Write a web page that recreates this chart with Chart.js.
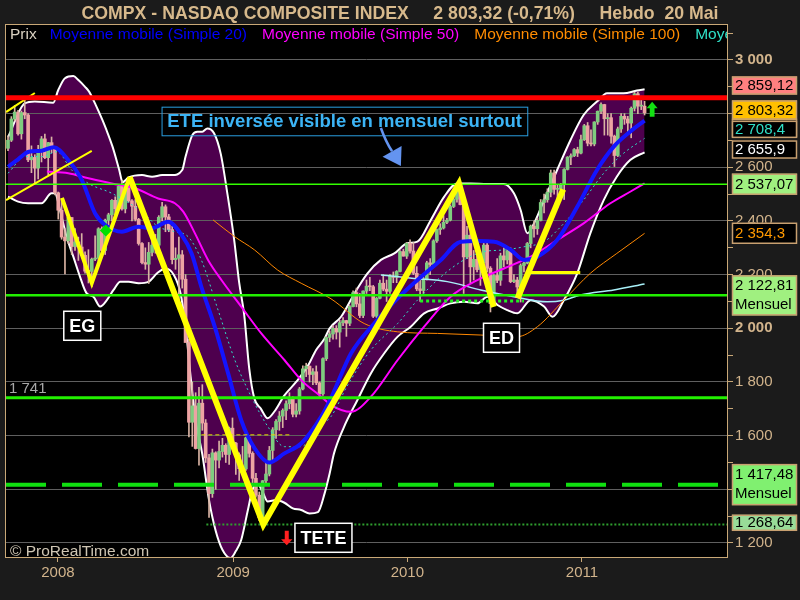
<!DOCTYPE html>
<html><head><meta charset="utf-8">
<script src="https://cdn.jsdelivr.net/npm/chart.js@4.4.0/dist/chart.umd.min.js"></script>
<style>
html,body{margin:0;padding:0;background:#1b1b1b;}
#wrap{position:relative;width:800px;height:600px;background:#1b1b1b;overflow:hidden;}
#plotbg{position:absolute;left:4px;top:25px;width:723px;height:532px;background:#000;}
#c{position:absolute;left:0;top:0;}
</style></head>
<body><div id="wrap"><div id="plotbg"></div><canvas id="c" width="800" height="600" style="width:800px;height:600px"></canvas></div>
<script>
// ---------- DATA ----------
const yearTicks = [14.9, 67.2, 119.2, 171.3];          // week index of each year start
const yearLabels = ['2008', '2009', '2010', '2011'];
const yTickValues = [1200,1300,1400,1500,1600,1700,1800,1900,2000,2100,2200,2300,2400,2500,2600,2700,2800,2900,3000,3100];

// weekly candles [open, high, low, close], one row per week, from week ending 28 Sep 2007
const ohlc2007 = [
[2671,2717,2662,2701],[2701,2789,2696,2780],[2780,2830,2773,2806],[2806,2812,2720,2725],
[2725,2810,2705,2804],[2804,2861,2781,2795],[2795,2800,2621,2628],[2628,2680,2580,2637],
[2637,2647,2540,2597],[2597,2682,2557,2661],[2661,2715,2620,2706],[2706,2724,2632,2636],
[2636,2693,2571,2692],[2692,2713,2654,2675]];
const ohlc2008 = [
[2675,2675,2497,2505],[2505,2508,2407,2440],[2440,2480,2332,2340],[2340,2372,2203,2326],
[2326,2420,2316,2413],[2413,2413,2275,2305],[2305,2372,2290,2322],[2322,2340,2253,2303],[2303,2353,2271,2272],
[2272,2285,2206,2213],[2213,2293,2169,2212],[2212,2262,2155,2258],[2258,2345,2252,2261],
[2261,2375,2250,2371],[2371,2378,2280,2290],[2290,2407,2275,2403],[2403,2429,2370,2423],
[2423,2480,2400,2477],[2477,2490,2420,2446],[2446,2534,2440,2529],[2529,2551,2440,2445],[2445,2531,2430,2523],
[2523,2550,2470,2475],[2475,2480,2400,2455],[2455,2480,2400,2406],[2406,2410,2310,2316],
[2316,2320,2240,2245],[2245,2300,2220,2239],[2239,2320,2167,2283],[2283,2340,2270,2310],
[2310,2350,2280,2310],[2310,2420,2300,2414],[2414,2470,2400,2453],[2453,2460,2360,2415],[2415,2425,2360,2368],
[2368,2380,2240,2256],[2256,2300,2220,2261],[2261,2340,2100,2274],[2274,2290,2150,2183],
[2183,2200,1950,1947],[1947,1960,1595,1650],[1650,1800,1560,1711],[1711,1760,1550,1552],[1552,1780,1490,1721],
[1721,1790,1620,1647],[1647,1660,1500,1517],[1517,1530,1295,1384],[1384,1550,1370,1536],
[1536,1540,1400,1509],[1509,1580,1480,1541],[1541,1590,1520,1564],[1564,1570,1500,1530]];
const ohlc2009 = [
[1530,1632,1493,1628],[1628,1666,1565,1572],[1572,1575,1456,1529],[1529,1536,1433,1477],[1477,1560,1470,1476],
[1476,1595,1470,1592],[1592,1600,1520,1534],[1534,1540,1420,1441],[1441,1460,1371,1378],
[1378,1390,1283,1294],[1294,1433,1265,1432],[1432,1500,1420,1457],[1457,1560,1450,1545],
[1545,1630,1500,1622],[1622,1660,1590,1653],[1653,1690,1620,1673],[1673,1700,1630,1694],
[1694,1730,1660,1719],[1719,1760,1700,1739],[1739,1745,1670,1680],[1680,1720,1670,1692],[1692,1780,1680,1774],
[1774,1860,1770,1849],[1849,1870,1820,1859],[1859,1860,1800,1828],[1828,1850,1790,1838],
[1838,1860,1790,1797],[1797,1800,1745,1756],[1756,1890,1750,1887],[1887,1970,1880,1966],[1966,1990,1950,1979],
[1979,2010,1960,2000],[2000,2010,1960,1986],[1986,2030,1930,2021],[2021,2040,2010,2029],
[2029,2030,1970,2019],[2019,2085,2010,2081],[2081,2140,2080,2133],[2133,2150,2080,2091],
[2091,2130,2040,2048],[2048,2140,2040,2139],[2139,2180,2130,2157],[2157,2190,2140,2155],[2155,2160,2040,2045],
[2045,2115,2040,2112],[2112,2180,2110,2168],[2168,2200,2140,2146],[2146,2180,2100,2138],
[2138,2200,2130,2194],[2194,2210,2170,2190],[2190,2215,2170,2212],[2212,2290,2210,2286]];
const ohlc2010 = [
[2286,2295,2269,2269],[2269,2320,2260,2317],[2317,2330,2280,2288],[2288,2320,2200,2205],[2205,2230,2140,2147],
[2147,2180,2100,2141],[2141,2190,2130,2184],[2184,2250,2180,2244],[2244,2260,2200,2238],
[2238,2330,2230,2326],[2326,2370,2320,2368],[2368,2390,2350,2374],[2374,2420,2370,2395],
[2395,2410,2390,2403],[2403,2460,2400,2454],[2454,2520,2450,2481],[2481,2535,2470,2530],[2530,2535,2460,2461],
[2461,2470,2130,2266],[2266,2380,2260,2347],[2347,2360,2170,2229],[2229,2290,2180,2257],
[2257,2290,2210,2219],[2219,2250,2160,2244],[2244,2320,2230,2310],[2310,2320,2210,2224],
[2224,2230,2061,2092],[2092,2200,2090,2197],[2197,2260,2170,2179],[2179,2280,2160,2270],[2270,2300,2230,2255],
[2255,2300,2240,2289],[2289,2300,2170,2174],[2174,2200,2170,2180],[2180,2190,2120,2154],
[2154,2240,2098,2234],[2234,2250,2210,2243],[2243,2320,2240,2316],[2316,2385,2300,2381],
[2381,2400,2340,2371],[2371,2410,2350,2402],[2402,2480,2400,2469],[2469,2500,2430,2479],[2479,2520,2470,2507],
[2507,2590,2490,2579],[2579,2590,2500,2518],[2518,2535,2450,2518],[2518,2540,2490,2535],
[2535,2595,2480,2592],[2592,2640,2590,2638],[2638,2650,2610,2643],[2643,2670,2640,2666],[2666,2675,2640,2653]];
const ohlc2011 = [
[2653,2720,2650,2703],[2703,2760,2700,2755],[2755,2767,2680,2690],[2690,2740,2680,2687],
[2687,2770,2680,2769],[2769,2810,2760,2809],[2809,2840,2800,2834],[2834,2835,2720,2781],
[2781,2800,2720,2785],[2785,2800,2690,2716],[2716,2720,2603,2644],[2644,2750,2640,2743],
[2743,2800,2730,2790],[2790,2800,2760,2780],[2780,2790,2730,2765],[2765,2825,2710,2820],[2820,2880,2810,2874],
[2874,2880,2800,2828],[2828,2865,2815,2828],[2828,2846,2795,2803]];

// indicator lines: [week, value]
const ma20 = [[0,2602],[3,2630],[6.2,2658],[10.1,2662],[13.6,2675],[17.6,2633],[22,2553],[26,2428],[29,2385],[34,2360],[38.9,2379],[42.9,2373],[47.8,2397],[51.8,2348],[54.8,2279],[57.7,2155],[61.7,2006],[65.7,1832],[69.6,1658],[73.6,1553],[78,1500],[82.5,1534],[87.5,1571],[93.5,1671],[96.4,1740],[102.4,1907],[109.3,2018],[116.3,2112],[122.2,2180],[129.2,2255],[135.2,2323],[140.1,2325],[145.1,2323],[150.1,2292],[154,2255],[158,2267],[163.9,2329],[169.9,2453],[175.8,2590],[180.8,2677],[185.7,2733],[190,2774]];
const ma30 = [[0,2578],[5.2,2640],[10.1,2640],[14.6,2658],[19,2590],[24,2540],[31,2503],[39.9,2435],[44.8,2379],[49.8,2360],[53.8,2341],[57.7,2255],[62.7,2068],[67.7,1882],[72.6,1745],[77.6,1633],[82.5,1559],[87.5,1559],[92.5,1633],[96.4,1671],[101.4,1789],[108.3,1919],[116.3,2018],[122.2,2105],[129.2,2192],[136.1,2255],[142.1,2286],[148,2292],[154,2304],[160,2323],[165.9,2391],[171.8,2478],[177.8,2578],[183.7,2652],[190,2708]];
const ma50 = [[11.6,2584],[18,2578],[24,2559],[31,2540],[37.9,2522],[44.8,2484],[49.8,2466],[52.3,2435],[55.8,2354],[59.7,2255],[63.7,2180],[69.6,2081],[75.6,1981],[82.5,1882],[87.5,1807],[93.5,1745],[96.4,1714],[102.4,1689],[108.3,1745],[116.3,1882],[124.2,2006],[132.1,2118],[140.1,2180],[148,2223],[156,2267],[163.9,2329],[171.8,2391],[179.8,2466],[185.7,2509],[190,2540]];
const ma100 = [[61.2,2404],[67.7,2341],[73.6,2292],[80.5,2217],[87.5,2168],[96.4,2110],[106.3,2018],[116.3,1987],[128.2,1981],[141.1,1975],[152,1969],[158,2006],[165.9,2105],[173.8,2205],[181.7,2279],[190,2354]];
const ma200 = [[111.3,2199],[121.2,2186],[131.1,2174],[141.1,2143],[151,2118],[160.9,2099],[165.9,2105],[170.8,2124],[180.8,2143],[190,2165]];
const bbUpper = [[0,2712],[5,2838],[8,2845],[13.5,2841],[15,2888],[17,2932],[19.5,2940],[21,2925],[23,2900],[24.2,2882],[26.2,2832],[28.2,2776],[29.2,2745],[31.2,2677],[33.2,2590],[34.2,2545],[36,2562],[40,2571],[43,2565],[46,2571],[49,2571],[52,2590],[53,2640],[55,2720],[56.5,2733],[58,2733],[59.5,2745],[61.5,2727],[63.5,2650],[65.5,2500],[67.5,2330],[69,2170],[70.5,2050],[72,1850],[73.5,1740],[75.5,1700],[77.5,1665],[79.5,1690],[82.5,1750],[86,1800],[89.5,1860],[92,1920],[94.4,1960],[96,2000],[99.4,2043],[103.4,2130],[107.3,2205],[111.3,2255],[115.3,2279],[119.2,2317],[122.2,2323],[126.2,2404],[130.2,2491],[134.1,2540],[138.1,2540],[143.1,2538],[148,2538],[151,2503],[153,2441],[155,2354],[157,2391],[160,2478],[163.9,2590],[167.9,2702],[171.8,2795],[175.8,2845],[178.8,2876],[183.7,2876],[187.7,2886],[190,2891]];
const bbLower = [[0,2491],[3,2472],[6,2466],[10,2466],[13,2503],[14,2503],[15.5,2441],[17.5,2341],[19.5,2267],[21.5,2192],[23.5,2130],[25.5,2118],[27.5,2081],[29.5,2105],[31.5,2143],[33.5,2174],[36,2174],[39,2168],[42,2174],[44.5,2205],[47,2223],[49.5,2199],[51.5,2130],[53,2006],[54.5,1820],[56,1658],[58,1530],[60,1360],[62,1245],[64,1175],[66.4,1144],[68,1170],[69.6,1211],[71.6,1323],[73,1400],[74.5,1420],[76,1390],[77.5,1355],[80,1360],[82.5,1350],[85,1329],[87.5,1323],[90,1310],[92.5,1315],[94.5,1385],[96,1459],[97.3,1534],[100.3,1633],[104.3,1733],[108.3,1832],[112.3,1907],[116.3,1969],[120.2,2006],[124.2,2056],[128.2,2074],[132.1,2093],[136.1,2099],[140.1,2093],[143.1,2118],[146.1,2087],[149,2068],[152,2056],[156,2105],[160,2081],[162.5,2043],[165.9,2105],[169.9,2205],[173.8,2354],[177.8,2478],[181.7,2565],[185.7,2627],[190,2656]];

// drawn levels and trend lines
const redLevel = 2859.12;
const greenLevels = [2537.07, 2122.81, 1741];
const dashedLevel = 1417.48;
const dottedLevel = 1268.64;
const dottedFromWeek = 59.2;
const zigzagEG = [[16.1,2486],[25,2169],[36.3,2564]];
const zigzagHead = [[36.3,2564],[76.2,1268.64],[134.6,2540],[145,2080]];
const zigzagED = [[152.1,2112],[165.7,2518]];
const thinTrend1 = [[-0.6,2806],[8,2877]];
const thinTrend2 = [[-0.6,2478],[25,2661]];
const yellowFlat = [[155.4,2208],[170.8,2208]];
const yellowDashed = [[57.7,1603],[84,1603]];
const greenDotted = [[123,2102],[154,2102]];
const buySignal = [[29.2,2365]];

// texts and annotations (data positions)
const titleText = 'COMPX - NASDAQ COMPOSITE INDEX     2 803,32 (-0,71%)     Hebdo  20 Mai';
const legendItems = [['Prix','#d8d0c0'],['Moyenne mobile (Simple 20)','#0000ff'],['Moyenne mobile (Simple 50)','#ff00ff'],['Moyenne mobile (Simple 100)','#ff8c00'],['Moyenne mobile (Simple 30)','#30e0c8']];
const patternLabels = [{w:22.17, v:2009.5, text:'EG'},{w:147.3, v:1964.8, text:'ED'},{w:94.15, v:1219.4, text:'TETE'}];
const eteNote = {w:45.83, v:2826, text:'ETE inversée visible en mensuel surtout'};
const eteArrowTip = {w:117.26, v:2605};
const upArrowTip = {w:192.26, v:2844.6};
const downArrowTip = {w:83.2, v:1191.5};
const priceTags = [
  {v:2776.2, lines:['2 776,2'], bg:'#000000', fg:'#5a2cff', dy:8, h:18},
  {v:2708.4, lines:['2 708,4'], bg:'#000000', fg:'#30e0c8', dy:-8.9, h:17},
  {v:2655.9, lines:['2 655,9'], bg:'#000000', fg:'#ffffff', dy:-2.8, h:18},
  {v:2859.12, lines:['2 859,12'], bg:'#ff8080', fg:'#000000', dy:-12.3, h:18},
  {v:2803.32, lines:['2 803,32'], bg:'#ffc000', fg:'#000000', dy:-2.8, h:19},
  {v:2537.07, lines:['2 537,07'], bg:'#a0f080', fg:'#000000', dy:0, h:21},
  {v:2354.3, lines:['2 354,3'], bg:'#000000', fg:'#ff9900', dy:0, h:21},
  {v:2122.81, lines:['2 122,81','Mensuel'], bg:'#a0f080', fg:'#000000', dy:0, h:40},
  {v:1417.48, lines:['1 417,48','Mensuel'], bg:'#80f070', fg:'#000000', dy:0, h:41},
  {v:1268.64, lines:['1 268,64'], bg:'#98dc98', fg:'#000000', dy:-1.8, h:16}
];

// ---------- STYLE ----------
const TAN = '#d2b48c', FRAME = '#c9a877', GRID = '#5f5f5f';
const UP = '#7fcc7f', DOWN = '#eda3a3', WICK = '#d9b3a3';
const PURPLE = '#4e004e';
const X_MIN = -0.6, X_MAX = 214.6, Y_MIN = 1147.8, Y_MAX = 3130.4;
const FONT = 'Arial, "Liberation Sans", sans-serif';

const candles = [].concat(ohlc2007, ohlc2008, ohlc2009, ohlc2010, ohlc2011);
const pts = arr => arr.map(p => ({x: p[0], y: p[1]}));
const level = (v, from) => [{x: from === undefined ? X_MIN : from, y: v}, {x: X_MAX, y: v}];
const fmt = v => String(v).replace(/\B(?=(\d{3})+(?!\d))/g, ' ');

const lineDs = (data, color, width, order, extra) => Object.assign({
  type: 'line', data: data, borderColor: color, borderWidth: width, pointRadius: 0,
  fill: false, order: order
}, extra || {});

const smooth = {cubicInterpolationMode: 'monotone'};

const datasets = [
  lineDs(pts(zigzagEG), '#ffff00', 4, 1),
  lineDs(pts(zigzagHead), '#ffff00', 6, 1),
  lineDs(pts(zigzagED), '#ffff00', 6, 1),
  {type:'line', data: pts(buySignal), showLine:false, pointStyle:'rectRot', pointRadius:6, pointBackgroundColor:'#00e000', pointBorderWidth:0, order:0},
  lineDs(pts(yellowFlat), '#ffff00', 3, 2),
  lineDs(pts(yellowDashed), '#e8d800', 1, 2, {borderDash:[4,3]}),
  lineDs(level(redLevel), '#ff0000', 5, 3),
  lineDs(pts(thinTrend1), '#ffff00', 2, 3.5),
  lineDs(pts(thinTrend2), '#ffff00', 2, 3.5),
  lineDs(level(greenLevels[0]), '#33ff00', 1.5, 4),
  lineDs(level(greenLevels[1]), '#22f000', 2.5, 4),
  lineDs(level(greenLevels[2]), '#22f000', 3, 4),
  lineDs(level(dashedLevel), '#10e010', 4, 5, {borderDash:[40,16]}),
  lineDs(level(dottedLevel, dottedFromWeek), '#2e9e2e', 2, 6, {borderDash:[2,2]}),
  lineDs(pts(greenDotted), '#22ee22', 3, 6, {borderDash:[3,3]}),
  lineDs(pts(ma20), '#1414ff', 4, 7, smooth),
  lineDs(pts(ma30), '#30e0c8', 1, 8, Object.assign({borderDash:[2,3]}, smooth)),
  lineDs(pts(ma50), '#ff00ff', 2, 9, smooth),
  lineDs(pts(ma100), '#ff8800', 1, 10, smooth),
  lineDs(pts(ma200), '#a8f0f8', 1.5, 11, smooth),
  {type:'bar', data: candles.map((k,i) => ({x:i, y:[k[0], k[3]]})),
   backgroundColor: candles.map(k => k[3] >= k[0] ? UP : DOWN),
   barThickness: 3, minBarLength: 1, grouped: false, borderWidth: 0, order: 12},
  {type:'bar', data: candles.map((k,i) => ({x:i, y:[k[2], k[1]]})),
   backgroundColor: WICK, barThickness: 1, grouped: false, borderWidth: 0, order: 13},
  lineDs(pts(bbUpper), '#ffffff', 2, 14, Object.assign({fill:'+1', backgroundColor: PURPLE}, smooth)),
  lineDs(pts(bbLower), '#ffffff', 2, 15, smooth)
];

const deco = {
  id: 'deco',
  afterLayout(chart) {
    const a = chart.chartArea, bg = document.getElementById('plotbg');
    bg.style.left = a.left + 'px'; bg.style.top = a.top + 'px';
    bg.style.width = (a.right - a.left) + 'px'; bg.style.height = (a.bottom - a.top) + 'px';
  },
  afterDraw(chart) {
    const ctx = chart.ctx, a = chart.chartArea, xs = chart.scales.x, ys = chart.scales.y;
    const px = w => xs.getPixelForValue(w), py = v => ys.getPixelForValue(v);
    ctx.save();
    // frame
    ctx.strokeStyle = FRAME; ctx.lineWidth = 1;
    ctx.strokeRect(a.left - 0.5, a.top - 0.5, a.right - a.left + 1, a.bottom - a.top + 1);
    // title
    ctx.fillStyle = '#d7b98c'; ctx.font = 'bold 17.7px ' + FONT;
    ctx.textAlign = 'center'; ctx.textBaseline = 'alphabetic';
    ctx.fillText(titleText, chart.width / 2, 18.5);
    // legend row
    ctx.save();
    ctx.beginPath(); ctx.rect(a.left, a.top, a.right - a.left, 22); ctx.clip();
    ctx.font = '15.5px ' + FONT; ctx.textAlign = 'left';
    let lx = a.left + 4;
    legendItems.forEach((it, i) => {
      ctx.fillStyle = it[1]; ctx.fillText(it[0], lx, 39);
      lx += ctx.measureText(it[0]).width + (i === 0 ? 13 : 15);
    });
    ctx.restore();
    // copyright + level label
    ctx.textAlign = 'left';
    ctx.fillStyle = '#cfc6b4'; ctx.font = '15.5px ' + FONT;
    ctx.fillText('\u00a9 ProRealTime.com', a.left + 4, a.bottom - 1);
    ctx.fillStyle = '#a8a8a8'; ctx.font = '15px ' + FONT;
    ctx.fillText(fmt(greenLevels[2]), a.left + 3, py(greenLevels[2]) - 5);
    // pattern labels
    ctx.font = 'bold 18px ' + FONT; ctx.textBaseline = 'middle';
    patternLabels.forEach(p => {
      const cx = px(p.w), cy = py(p.v);
      const bw = ctx.measureText(p.text).width + 11, bh = 29;
      ctx.fillStyle = '#000'; ctx.fillRect(cx - bw/2, cy - bh/2, bw, bh);
      ctx.strokeStyle = '#ffffff'; ctx.lineWidth = 1.5;
      ctx.strokeRect(cx - bw/2, cy - bh/2, bw, bh);
      ctx.fillStyle = '#ffffff'; ctx.textAlign = 'center';
      ctx.fillText(p.text, cx, cy + 1);
    });
    // ETE note
    ctx.font = 'bold 18.5px ' + FONT; ctx.textAlign = 'left';
    const nx = px(eteNote.w), ny = py(eteNote.v);
    const nw = ctx.measureText(eteNote.text).width + 11;
    ctx.strokeStyle = '#2a9ee0'; ctx.lineWidth = 1;
    ctx.strokeRect(nx + 0.5, ny + 0.5, nw, 28.6);
    ctx.fillStyle = '#3cb4f5';
    ctx.fillText(eteNote.text, nx + 5.7, ny + 15.5);
    // ETE arrow
    const tx = px(eteArrowTip.w), ty = py(eteArrowTip.v);
    ctx.strokeStyle = '#6494f0'; ctx.fillStyle = '#6494f0'; ctx.lineWidth = 2.5;
    ctx.beginPath(); ctx.moveTo(tx - 20, ty - 38);
    ctx.quadraticCurveTo(tx - 15, ty - 24, tx - 8.8, ty - 14.7); ctx.stroke();
    ctx.beginPath(); ctx.moveTo(tx, ty); ctx.lineTo(tx - 18.3, ty - 9.3); ctx.lineTo(tx + 0.7, ty - 20);
    ctx.closePath(); ctx.fill();
    // green up arrow
    const gx = px(upArrowTip.w), gy = py(upArrowTip.v);
    ctx.fillStyle = '#12e012';
    ctx.beginPath(); ctx.moveTo(gx, gy); ctx.lineTo(gx + 5.5, gy + 6.6); ctx.lineTo(gx + 2.4, gy + 6.6);
    ctx.lineTo(gx + 2.4, gy + 15); ctx.lineTo(gx - 2.4, gy + 15); ctx.lineTo(gx - 2.4, gy + 6.6);
    ctx.lineTo(gx - 5.5, gy + 6.6); ctx.closePath(); ctx.fill();
    // red down arrow
    const rx = px(downArrowTip.w), ry = py(downArrowTip.v);
    ctx.fillStyle = '#ff2020';
    ctx.beginPath(); ctx.moveTo(rx, ry); ctx.lineTo(rx + 5.7, ry - 6); ctx.lineTo(rx + 2, ry - 6);
    ctx.lineTo(rx + 2, ry - 14.6); ctx.lineTo(rx - 2, ry - 14.6); ctx.lineTo(rx - 2, ry - 6);
    ctx.lineTo(rx - 5.7, ry - 6); ctx.closePath(); ctx.fill();
    // price tags on the right axis
    ctx.font = '15px ' + FONT; ctx.textAlign = 'left'; ctx.textBaseline = 'middle';
    const bx = a.right + 5, bwid = 65;
    priceTags.forEach(t => {
      const cy = py(t.v) + t.dy, top = cy - t.h / 2;
      ctx.fillStyle = t.bg; ctx.fillRect(bx, top, bwid, t.h);
      ctx.strokeStyle = '#c8a070'; ctx.lineWidth = 1.5;
      ctx.strokeRect(bx + 0.5, top + 0.5, bwid - 1, t.h - 1);
      ctx.fillStyle = t.fg;
      if (t.lines.length === 1) ctx.fillText(t.lines[0], bx + 3, cy + 0.5);
      else t.lines.forEach((ln, k) => ctx.fillText(ln, bx + 3, top + 10.5 + k * 19));
    });
    ctx.restore();
  }
};

Chart.defaults.font.family = FONT;
new Chart(document.getElementById('c'), {
  type: 'line',
  data: { datasets: datasets },
  options: {
    responsive: false, animation: false, devicePixelRatio: 1, events: [],
    layout: { padding: { left: 4, top: 25, right: 0, bottom: 0 } },
    plugins: { legend: { display: false }, tooltip: { enabled: false }, filler: { drawTime: 'beforeDraw' } },
    scales: {
      x: {
        type: 'linear', min: X_MIN, max: X_MAX, offset: false,
        afterBuildTicks: s => { s.ticks = yearTicks.map(v => ({value: v})); },
        afterFit: s => { s.height = 43; },
        grid: { offset: false, drawOnChartArea: false, drawTicks: true, tickLength: 5, tickColor: FRAME },
        border: { display: true, color: FRAME },
        ticks: { color: TAN, font: { size: 15 }, padding: 2, maxRotation: 0, autoSkip: false,
                 callback: (v, i) => yearLabels[i] }
      },
      y: {
        type: 'linear', position: 'right', min: Y_MIN, max: Y_MAX,
        afterBuildTicks: s => { s.ticks = yTickValues.map(v => ({value: v})); },
        afterFit: s => { s.width = 73; },
        grid: { offset: false, color: c => (c.tick && c.tick.value % 200 === 0) ? GRID : 'rgba(0,0,0,0)',
                tickColor: FRAME, tickLength: 6, drawTicks: true, lineWidth: 1 },
        border: { display: true, color: FRAME },
        ticks: { color: TAN, padding: 2, autoSkip: false,
                 font: c => ({ size: 15, weight: (c.tick && c.tick.value % 1000 === 0) ? 'bold' : 'normal' }),
                 callback: v => v % 200 === 0 ? fmt(v) : '' }
      }
    }
  },
  plugins: [deco]
});
</script>
</body></html>
